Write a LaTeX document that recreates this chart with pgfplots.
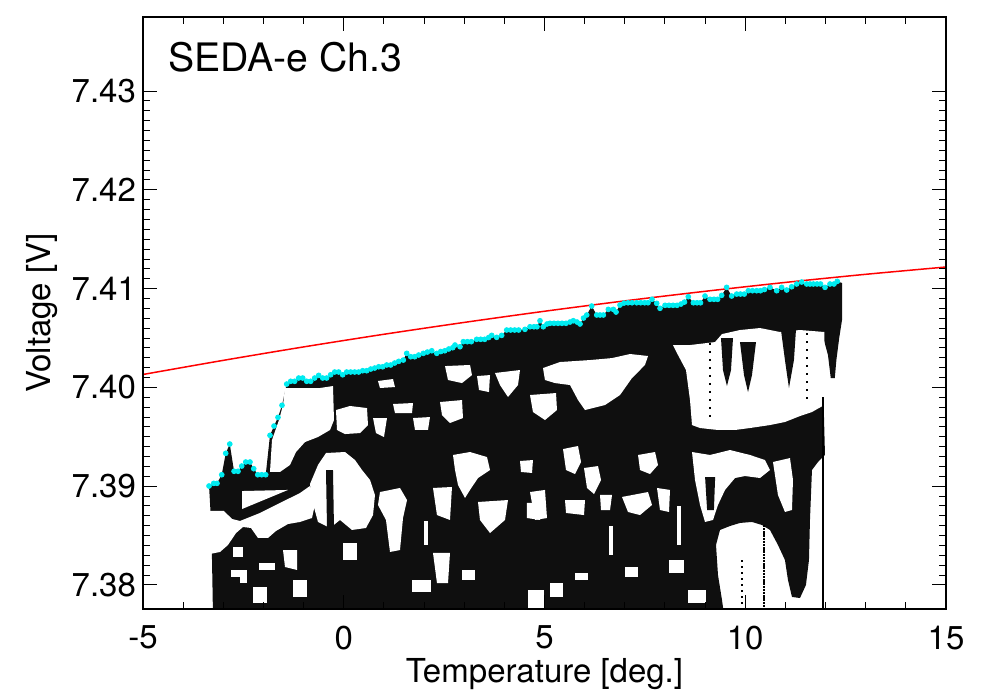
\documentclass[border=0pt]{standalone}
\usepackage{fontspec}
\setmainfont{TeX Gyre Heros}
\usepackage{pgfplots}
\pgfplotsset{compat=1.18}
\definecolor{aqua}{RGB}{0,235,240}
\begin{document}
\begin{tikzpicture}
\begin{axis}[
  at={(0,0)}, anchor=south west,
  scale only axis, width=401.5pt, height=296pt,
  xmin=-5, xmax=15, ymin=7.37757, ymax=7.4375,
  xtick={-5,0,5,10,15}, minor x tick num=4,
  ytick={7.38,7.39,7.40,7.41,7.42,7.43}, minor y tick num=9,
  xtick pos=both, ytick pos=both,
  tick align=inside,
  major tick length=7pt, minor tick length=3.5pt,
  tick style={black, line width=0.5pt},
  axis line style={black, line width=0.6pt},
  /pgf/number format/assume math mode=true,
  yticklabel style={/pgf/number format/fixed, /pgf/number format/fixed zerofill, /pgf/number format/precision=2},
  tick label style={font=\fontsize{16.5}{18}\selectfont},
  xticklabel style={yshift=-5pt},
  xlabel={Temperature [deg.]}, ylabel={Voltage [V]},
  every axis x label/.style={at={(axis description cs:0.5,-0.125)}, anchor=base, font=\fontsize{16.5}{18}\selectfont},
  every axis y label/.style={at={(axis description cs:-0.1158,0.5)}, rotate=90, anchor=base, font=\fontsize{16.5}{18}\selectfont},
  axis on top,
  cloud/.style={fill=black!94, draw=none},
  hole/.style={fill=white, draw=none},
]
% ---- envelope of the measured points ----
\addplot[cloud] coordinates {
(-3.355,7.39002) (-3.238,7.39029) (-3.156,7.39029) (-3.039,7.39116) (-2.939,7.39333) (-2.839,7.39427) (-2.732,7.39151) (-2.633,7.39151) (-2.541,7.39204) (-2.441,7.39245)
(-2.335,7.39245) (-2.242,7.39177) (-2.142,7.39116) (-2.043,7.39116) (-1.943,7.39116) (-1.837,7.39515) (-1.737,7.39609) (-1.638,7.39697) (-1.538,7.39819) (-1.421,7.40034)
(-1.321,7.40062) (-1.222,7.40062) (-1.122,7.40095) (-1.022,7.40095) (-0.923,7.40062) (-0.823,7.40062) (-0.724,7.40095) (-0.624,7.40122) (-0.524,7.40095) (-0.425,7.40095)
(-0.325,7.40128) (-0.225,7.40156) (-0.126,7.40156) (-0.026,7.40128) (0.073,7.40156) (0.173,7.40156) (0.273,7.40156) (0.372,7.40156) (0.472,7.40169) (0.572,7.40169)
(0.672,7.40186) (0.771,7.40196) (0.871,7.40209) (0.970,7.40209) (1.070,7.40227) (1.170,7.40227) (1.269,7.40247) (1.369,7.40264) (1.484,7.40277) (1.568,7.40345)
(1.668,7.40311) (1.768,7.40311) (1.867,7.40328) (1.983,7.40345) (2.083,7.40358) (2.192,7.40371) (2.317,7.40345) (2.416,7.40363) (2.516,7.40371) (2.616,7.40389)
(2.715,7.40402) (2.771,7.40429) (2.896,7.40412) (2.978,7.40463) (3.078,7.40463) (3.177,7.40463) (3.311,7.40487) (3.411,7.40487) (3.511,7.40487) (3.610,7.40505)
(3.685,7.40527) (3.809,7.40507) (3.934,7.40527) (4.059,7.40581) (4.158,7.40581) (4.258,7.40581) (4.357,7.40581) (4.514,7.40588) (4.639,7.40614) (4.738,7.40614)
(4.813,7.40614) (4.888,7.40675) (4.970,7.40614) (5.062,7.40642) (5.137,7.40649) (5.237,7.40649) (5.336,7.40649) (5.436,7.40649) (5.536,7.40649) (5.636,7.40662)
(5.718,7.40675) (5.810,7.40662) (5.885,7.40642) (5.972,7.40702) (6.052,7.40733) (6.176,7.40824) (6.301,7.40733) (6.383,7.40733) (6.466,7.40733) (6.590,7.40790)
(6.715,7.40790) (6.782,7.40763) (6.881,7.40834) (6.981,7.40854) (7.081,7.40857) (7.180,7.40857) (7.297,7.40857) (7.397,7.40857) (7.496,7.40857) (7.578,7.40857)
(7.678,7.40892) (7.795,7.40851) (7.877,7.40801) (8.002,7.40831) (8.101,7.40831) (8.201,7.40831) (8.301,7.40831) (8.400,7.40844) (8.487,7.40864) (8.582,7.40918)
(8.707,7.40857) (8.799,7.40857) (8.886,7.40857) (8.998,7.40925) (9.122,7.40892) (9.222,7.40892) (9.313,7.40892) (9.413,7.40932) (9.537,7.41013) (9.662,7.40925)
(9.787,7.40945) (9.881,7.40945) (9.976,7.40945) (10.076,7.40979) (10.180,7.40979) (10.285,7.40979) (10.380,7.40979) (10.479,7.40991) (10.616,7.41013) (10.783,7.40979)
(10.907,7.41013) (11.032,7.40986) (11.156,7.41019) (11.281,7.41047) (11.405,7.41067) (11.530,7.41047) (11.613,7.41047) (11.696,7.41047) (11.788,7.41047) (11.875,7.41047)
(11.987,7.41013) (12.111,7.41047) (12.211,7.41047) (12.293,7.41074)
(12.41,7.41057) (12.41,7.40682) (12.34,7.40500) (12.27,7.40277) (12.23,7.40095) (12.13,7.40095) (12.06,7.40328) (11.96,7.40480) (11.95,7.39872)
(11.986,7.39316) (11.812,7.39245) (11.662,7.39164) (11.612,7.38658) (11.587,7.38253) (11.512,7.38000) (11.363,7.37868) (11.164,7.37879) (11.064,7.38051)
(10.989,7.38253) (10.815,7.38405) (10.616,7.38557) (10.417,7.38607) (10.168,7.38638) (9.869,7.38628) (9.620,7.38597) (9.371,7.38557) (9.272,7.38405)
(9.321,7.38101) (9.421,7.37848) (9.471,7.3770) (-3.257,7.3770) (-3.281,7.38253) (-3.306,7.38658)
} -- cycle;
% ---- empty regions ----
\addplot[hole] coordinates {(-3.580,7.38749) (-2.983,7.38749) (-2.783,7.38668) (-2.584,7.38648) (-2.086,7.38729) (-1.588,7.38830) (-1.090,7.38931) (-0.841,7.39002) (-0.691,7.38860) (-0.791,7.38678) (-1.090,7.38638) (-1.389,7.38617) (-1.687,7.38547) (-1.887,7.38476) (-2.136,7.38476) (-2.310,7.38577) (-2.509,7.38587) (-2.683,7.38526) (-2.883,7.38405) (-3.082,7.38334) (-3.580,7.38294)} -- cycle;
\addplot[hole] coordinates {(-2.534,7.38951) (-1.389,7.38962) (-2.534,7.38769)} -- cycle;
\addplot[hole] coordinates {(-1.463,7.39994) (-1.090,7.39994) (-0.592,7.39994) (-0.268,7.40014) (-0.243,7.39670) (-0.342,7.39569) (-0.641,7.39498) (-0.965,7.39447) (-1.189,7.39346) (-1.339,7.39215) (-1.588,7.39144) (-1.837,7.39144) (-1.787,7.39468) (-1.613,7.39670) (-1.513,7.39822)} -- cycle;
\addplot[hole] coordinates {(-0.193,7.39771) (0.156,7.39812) (0.579,7.39791) (0.604,7.39619) (0.405,7.39538) (0.031,7.39528) (-0.168,7.39569)} -- cycle;
\addplot[hole] coordinates {(-0.841,7.39022) (-0.641,7.39215) (-0.442,7.39336) (0.031,7.39346) (0.280,7.39265) (0.455,7.39164) (0.654,7.39063) (0.778,7.38911) (0.729,7.38708) (0.554,7.38577) (0.205,7.38557) (-0.093,7.38658) (-0.342,7.38577) (-0.641,7.38638) (-0.791,7.38860)} -- cycle;
\addplot[hole] coordinates {(0.903,7.38941) (1.401,7.38982) (1.576,7.38860) (1.476,7.38678) (1.401,7.38354) (1.152,7.38334) (1.052,7.38658) (0.853,7.38810)} -- cycle;
\addplot[hole] coordinates {(2.721,7.39316) (3.145,7.39346) (3.568,7.39295) (3.643,7.39164) (3.344,7.39083) (3.145,7.38962) (3.020,7.38881) (2.846,7.39012) (2.771,7.39164)} -- cycle;
\addplot[hole] coordinates {(4.963,7.40196) (5.386,7.40257) (6.134,7.40277) (6.682,7.40297) (7.130,7.40338) (7.578,7.40318) (7.503,7.40227) (7.179,7.40095) (6.881,7.39923) (6.507,7.39822) (6.009,7.39771) (5.835,7.39872) (5.636,7.40024) (5.262,7.40044) (5.012,7.40075)} -- cycle;
\addplot[hole] coordinates {(8.201,7.40429) (8.624,7.40429) (9.247,7.40459) (9.421,7.40540) (9.869,7.40581) (10.367,7.40601) (10.865,7.40561) (11.363,7.40581) (11.97,7.40561) (11.97,7.39822) (11.662,7.39751) (11.363,7.39710) (10.989,7.39650) (10.616,7.39619) (10.118,7.39589) (9.744,7.39569) (9.321,7.39569) (8.873,7.39589) (8.674,7.39619) (8.624,7.39872) (8.524,7.40176) (8.325,7.40328)} -- cycle;
\addplot[hole] coordinates {(8.674,7.39346) (9.122,7.39316) (9.620,7.39366) (10.118,7.39316) (10.491,7.39265) (10.616,7.39164) (10.367,7.39083) (9.994,7.39103) (9.745,7.39083) (9.496,7.38962) (9.321,7.38810) (9.197,7.38658) (8.998,7.38638) (8.873,7.38810) (8.749,7.39063)} -- cycle;
\addplot[hole] coordinates {(10.691,7.39245) (11.114,7.39285) (11.189,7.39063) (11.164,7.38759) (10.989,7.38739) (10.815,7.38911)} -- cycle;
% small holes
\addplot[hole] coordinates {(0.853,7.40065) (1.227,7.40085) (1.276,7.40004) (0.903,7.39994)} -- cycle;
\addplot[hole] coordinates {(2.522,7.40216) (3.145,7.40227) (3.194,7.40125) (2.945,7.40044) (2.597,7.40075)} -- cycle;
\addplot[hole] coordinates {(3.319,7.40115) (3.643,7.40125) (3.617,7.39953) (3.369,7.39974)} -- cycle;
\addplot[hole] coordinates {(3.767,7.40146) (4.390,7.40176) (4.340,7.40024) (4.091,7.39903) (3.892,7.40024)} -- cycle;
\addplot[hole] coordinates {(4.639,7.39923) (5.287,7.39943) (5.311,7.39771) (5.012,7.39670) (4.713,7.39751)} -- cycle;
\addplot[hole] coordinates {(2.397,7.39852) (2.945,7.39872) (2.970,7.39690) (2.646,7.39640) (2.447,7.39720)} -- cycle;
\addplot[hole] coordinates {(1.725,7.39690) (2.148,7.39700) (2.098,7.39569) (1.775,7.39569)} -- cycle;
\addplot[hole] coordinates {(1.227,7.39832) (1.725,7.39842) (1.700,7.39741) (1.276,7.39741)} -- cycle;
\addplot[hole] coordinates {(0.729,7.39690) (1.077,7.39690) (1.002,7.39498) (0.803,7.39538)} -- cycle;
\addplot[hole] coordinates {(4.390,7.39255) (4.713,7.39265) (4.689,7.39134) (4.415,7.39144)} -- cycle;
\addplot[hole] coordinates {(2.223,7.38982) (2.696,7.38992) (2.646,7.38658) (2.322,7.38708)} -- cycle;
\addplot[hole] coordinates {(3.344,7.38840) (4.091,7.38860) (4.016,7.38658) (3.643,7.38526) (3.393,7.38658)} -- cycle;
\addplot[hole] coordinates {(4.564,7.38830) (4.888,7.38830) (4.888,7.38658) (4.564,7.38678)} -- cycle;
\addplot[hole] coordinates {(2.223,7.38324) (2.646,7.38324) (2.597,7.38020) (2.322,7.38020)} -- cycle;
\addplot[hole] coordinates {(5.461,7.39376) (5.835,7.39407) (5.910,7.39245) (5.760,7.39123) (5.536,7.39164)} -- cycle;
\addplot[hole] coordinates {(5.984,7.39184) (6.333,7.39204) (6.408,7.39063) (6.233,7.38921) (6.059,7.38982)} -- cycle;
\addplot[hole] coordinates {(7.330,7.39316) (7.753,7.39346) (7.827,7.39215) (7.628,7.39123) (7.379,7.39164)} -- cycle;
\addplot[hole] coordinates {(6.931,7.38891) (7.578,7.38941) (7.678,7.38810) (7.379,7.38708) (7.080,7.38739)} -- cycle;
\addplot[hole] coordinates {(7.802,7.38982) (8.126,7.38962) (8.101,7.38739) (7.877,7.38759)} -- cycle;
\addplot[hole] coordinates {(4.639,7.38941) (5.012,7.38962) (5.062,7.38678) (4.763,7.38658)} -- cycle;
\addplot[hole] coordinates {(5.511,7.38860) (6.009,7.38860) (5.984,7.38708) (5.536,7.38729)} -- cycle;
\addplot[hole] coordinates {(6.383,7.38911) (6.682,7.38911) (6.632,7.38759) (6.408,7.38759)} -- cycle;
\addplot[hole] coordinates {(-2.758,7.38385) (-2.509,7.38385) (-2.509,7.38283) (-2.758,7.38283)} -- cycle;
\addplot[hole] coordinates {(-1.513,7.38354) (-1.164,7.38354) (-1.164,7.38152) (-1.463,7.38182)} -- cycle;
\addplot[hole] coordinates {(-2.584,7.38132) (-2.410,7.38132) (-2.410,7.38020) (-2.584,7.38020)} -- cycle;
\addplot[hole] coordinates {(-0.019,7.38425) (0.330,7.38425) (0.330,7.38253) (-0.019,7.38253)} -- cycle;
\addplot[hole] coordinates {(-1.264,7.38051) (-0.915,7.38051) (-0.915,7.37879) (-1.264,7.37879)} -- cycle;
\addplot[hole] coordinates {(-2.260,7.37980) (-1.912,7.37980) (-1.912,7.37818) (-2.260,7.37818)} -- cycle;
\addplot[hole] coordinates {(4.589,7.37949) (4.988,7.37949) (4.988,7.3770) (4.589,7.3770)} -- cycle;
\addplot[hole] coordinates {(1.700,7.38051) (2.173,7.38051) (2.173,7.37929) (1.700,7.37929)} -- cycle;
\addplot[hole] coordinates {(-2.80,7.38152) (-2.41,7.38152) (-2.41,7.38081) (-2.80,7.38081)} -- cycle;
\addplot[hole] coordinates {(-2.11,7.38223) (-1.71,7.38223) (-1.71,7.38152) (-2.11,7.38152)} -- cycle;
\addplot[hole] coordinates {(2.95,7.38152) (3.27,7.38152) (3.27,7.38051) (2.95,7.38051)} -- cycle;
\addplot[hole] coordinates {(5.14,7.38020) (5.46,7.38020) (5.46,7.37879) (5.14,7.37879)} -- cycle;
\addplot[hole] coordinates {(5.76,7.38121) (6.08,7.38121) (6.08,7.38051) (5.76,7.38051)} -- cycle;
\addplot[hole] coordinates {(7.01,7.38182) (7.33,7.38182) (7.33,7.38081) (7.01,7.38081)} -- cycle;
\addplot[hole] coordinates {(8.10,7.38253) (8.48,7.38253) (8.48,7.38121) (8.10,7.38121)} -- cycle;
\addplot[hole] coordinates {(8.57,7.37949) (9.02,7.37949) (9.02,7.37818) (8.57,7.37818)} -- cycle;
\addplot[hole] coordinates {(2.00,7.38650) (2.10,7.38650) (2.10,7.38400) (2.00,7.38400)} -- cycle;
\addplot[hole] coordinates {(6.60,7.38600) (6.70,7.38600) (6.70,7.38300) (6.60,7.38300)} -- cycle;
\addplot[hole] coordinates {(8.30,7.38800) (8.40,7.38800) (8.40,7.38400) (8.30,7.38400)} -- cycle;
% ---- streaks of points inside the empty regions ----
\addplot[cloud] coordinates {(9.396,7.40500) (9.695,7.40500) (9.645,7.40176) (9.545,7.40014) (9.446,7.40176)} -- cycle;
\addplot[cloud] coordinates {(9.869,7.40459) (10.268,7.40459) (10.168,7.40125) (10.069,7.39953) (9.969,7.40125)} -- cycle;
\addplot[cloud] coordinates {(10.890,7.40581) (11.263,7.40581) (11.213,7.40277) (11.089,7.39994) (10.989,7.40277)} -- cycle;
\addplot[cloud] coordinates {(-0.442,7.39164) (-0.268,7.39164) (-0.243,7.38577) (-0.417,7.38577)} -- cycle;
\addplot[cloud] coordinates {(9.00,7.39093) (9.25,7.39093) (9.22,7.38759) (9.05,7.38759)} -- cycle;
\addplot[black, line width=1pt, dash pattern=on 1.2pt off 0.3pt] coordinates {(11.94,7.3990) (11.94,7.3770)};
\addplot[black, line width=1pt, dash pattern=on 1pt off 3pt] coordinates {(11.54,7.4055) (11.54,7.3984)};
\addplot[black, line width=1pt, dash pattern=on 1pt off 3pt] coordinates {(9.12,7.4045) (9.12,7.3965)};
\addplot[black, line width=1pt, dash pattern=on 1pt off 2pt] coordinates {(9.92,7.3825) (9.92,7.3770)};
\addplot[black, line width=1pt, dash pattern=on 1.2pt off 0.4pt] coordinates {(10.47,7.3861) (10.47,7.3770)};
% ---- fitted curve ----
\addplot[red, line width=0.75pt, smooth] coordinates {
(-5,7.40131) (-3,7.40274) (-1,7.40410) (1,7.40538) (3,7.40658) (5,7.40771) (7,7.40876) (9,7.40973) (11,7.41063) (13,7.41145) (15,7.41219)};
% ---- upper envelope points ----
\addplot[only marks, mark=*, mark size=1.2pt, mark options={fill=aqua, draw=aqua}] coordinates {
(-3.355,7.39002) (-3.238,7.39029) (-3.156,7.39029) (-3.039,7.39116) (-2.939,7.39333) (-2.839,7.39427) (-2.732,7.39151) (-2.633,7.39151) (-2.541,7.39204) (-2.441,7.39245)
(-2.335,7.39245) (-2.242,7.39177) (-2.142,7.39116) (-2.043,7.39116) (-1.943,7.39116) (-1.837,7.39515) (-1.737,7.39609) (-1.638,7.39697) (-1.538,7.39819) (-1.421,7.40034)
(-1.321,7.40062) (-1.222,7.40062) (-1.122,7.40095) (-1.022,7.40095) (-0.923,7.40062) (-0.823,7.40062) (-0.724,7.40095) (-0.624,7.40122) (-0.524,7.40095) (-0.425,7.40095)
(-0.325,7.40128) (-0.225,7.40156) (-0.126,7.40156) (-0.026,7.40128) (0.073,7.40156) (0.173,7.40156) (0.273,7.40156) (0.372,7.40156) (0.472,7.40169) (0.572,7.40169)
(0.672,7.40186) (0.771,7.40196) (0.871,7.40209) (0.970,7.40209) (1.070,7.40227) (1.170,7.40227) (1.269,7.40247) (1.369,7.40264) (1.484,7.40277) (1.568,7.40345)
(1.668,7.40311) (1.768,7.40311) (1.867,7.40328) (1.983,7.40345) (2.083,7.40358) (2.192,7.40371) (2.317,7.40345) (2.416,7.40363) (2.516,7.40371) (2.616,7.40389)
(2.715,7.40402) (2.771,7.40429) (2.896,7.40412) (2.978,7.40463) (3.078,7.40463) (3.177,7.40463) (3.311,7.40487) (3.411,7.40487) (3.511,7.40487) (3.610,7.40505)
(3.685,7.40527) (3.809,7.40507) (3.934,7.40527) (4.059,7.40581) (4.158,7.40581) (4.258,7.40581) (4.357,7.40581) (4.514,7.40588) (4.639,7.40614) (4.738,7.40614)
(4.813,7.40614) (4.888,7.40675) (4.970,7.40614) (5.062,7.40642) (5.137,7.40649) (5.237,7.40649) (5.336,7.40649) (5.436,7.40649) (5.536,7.40649) (5.636,7.40662)
(5.718,7.40675) (5.810,7.40662) (5.885,7.40642) (5.972,7.40702) (6.052,7.40733) (6.176,7.40824) (6.301,7.40733) (6.383,7.40733) (6.466,7.40733) (6.590,7.40790)
(6.715,7.40790) (6.782,7.40763) (6.881,7.40834) (6.981,7.40854) (7.081,7.40857) (7.180,7.40857) (7.297,7.40857) (7.397,7.40857) (7.496,7.40857) (7.578,7.40857)
(7.678,7.40892) (7.795,7.40851) (7.877,7.40801) (8.002,7.40831) (8.101,7.40831) (8.201,7.40831) (8.301,7.40831) (8.400,7.40844) (8.487,7.40864) (8.582,7.40918)
(8.707,7.40857) (8.799,7.40857) (8.886,7.40857) (8.998,7.40925) (9.122,7.40892) (9.222,7.40892) (9.313,7.40892) (9.413,7.40932) (9.537,7.41013) (9.662,7.40925)
(9.787,7.40945) (9.881,7.40945) (9.976,7.40945) (10.076,7.40979) (10.180,7.40979) (10.285,7.40979) (10.380,7.40979) (10.479,7.40991) (10.616,7.41013) (10.783,7.40979)
(10.907,7.41013) (11.032,7.40986) (11.156,7.41019) (11.281,7.41047) (11.405,7.41067) (11.530,7.41047) (11.613,7.41047) (11.696,7.41047) (11.788,7.41047) (11.875,7.41047)
(11.987,7.41013) (12.111,7.41047) (12.211,7.41047) (12.293,7.41074)};
\node[anchor=base west, inner sep=0pt, font=\fontsize{19.6}{22}\selectfont] at (axis description cs:0.0311,0.9071) {SEDA-e Ch.3};
\end{axis}
\pgfresetboundingbox
\path (-71.5pt,-42.5pt) rectangle (419pt,304.5pt);
\end{tikzpicture}
\end{document}
